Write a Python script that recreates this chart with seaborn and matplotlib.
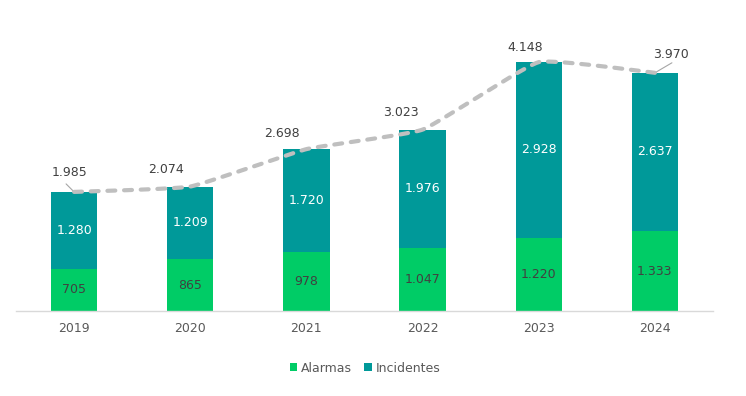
import numpy as np
import pandas as pd
import matplotlib
matplotlib.use("Agg")
import matplotlib.pyplot as plt
import seaborn as sns

years = ["2019", "2020", "2021", "2022", "2023", "2024"]
alarmas = [705, 865, 978, 1047, 1220, 1333]
incidentes = [1280, 1209, 1720, 1976, 2928, 2637]
totales = [1985, 2074, 2698, 3023, 4148, 3970]

GREEN = "#00CC66"
TEAL = "#009999"
GREY_LINE = "#BFBFBF"
TXT = "#404040"

def fmt(v):
    return f"{v:,}".replace(",", ".")

sns.set_theme(style="white")
plt.rcParams["font.family"] = ["DejaVu Sans"]

fig = plt.figure(figsize=(7.46, 3.96), dpi=100)
ax = fig.add_axes([16/746, (396-311)/396, 697/746, 300/396])

df = pd.DataFrame({"year": years, "Alarmas": alarmas, "Incidentes": incidentes})
sns.barplot(data=df, x="year", y="Alarmas", color=GREEN, width=0.4, ax=ax,
            saturation=1, label="Alarmas", linewidth=0)
sns.barplot(data=df, x="year", y="Incidentes", color=TEAL, width=0.4, ax=ax,
            saturation=1, bottom=alarmas, label="Incidentes", linewidth=0)

# lightly smoothed total line (Bezier rendering through the data points)
xs = np.arange(len(years), dtype=float)
ys = np.array(totales, dtype=float)
P = np.column_stack([xs, ys])
n = len(P)
tang = np.zeros_like(P)
for i in range(n):
    a = P[max(i-1, 0)]
    b = P[min(i+1, n-1)]
    tang[i] = (b - a) / 2
k = 0.12
cx, cy = [], []
t = np.linspace(0, 1, 40)[:, None]
for i in range(n-1):
    p0 = P[i]; p3 = P[i+1]
    p1 = p0 + tang[i] * k
    p2 = p3 - tang[i+1] * k
    pts = (1-t)**3*p0 + 3*(1-t)**2*t*p1 + 3*(1-t)*t**2*p2 + t**3*p3
    cx.extend(pts[:, 0]); cy.extend(pts[:, 1])
ax.plot(cx, cy, color=GREY_LINE, lw=3.0, ls=(0, (1.9, 2.1)),
        dash_capstyle="round", zorder=5)

# segment labels
for i in range(len(years)):
    ax.text(i, alarmas[i]/2, fmt(alarmas[i]), ha="center", va="center",
            fontsize=9, color=TXT, zorder=6)
    ax.text(i, alarmas[i] + incidentes[i]/2, fmt(incidentes[i]), ha="center",
            va="center", fontsize=9, color="white", zorder=6)

# total labels (offsets in pixels)
offs = [(-5, 19), (-24, 17), (-24, 16), (-22, 17), (-14, 15), (16, 18)]
for i, (dx, dy) in enumerate(offs):
    ax.annotate(fmt(totales[i]), xy=(i, totales[i]), xytext=(dx*0.72, dy*0.72),
                textcoords="offset points", ha="center", va="center",
                fontsize=9, color=TXT, zorder=7)
# leader lines
ax.annotate("", xy=(0, totales[0]), xytext=(-8*0.72, 8*0.72), textcoords="offset points",
            arrowprops=dict(arrowstyle="-", color="#A6A6A6", lw=0.8, shrinkA=0, shrinkB=0))
ax.annotate("", xy=(5, totales[5]), xytext=(17*0.72, 10*0.72), textcoords="offset points",
            arrowprops=dict(arrowstyle="-", color="#A6A6A6", lw=0.8, shrinkA=0, shrinkB=0))

ax.set_xlim(-0.5, 5.5)
ax.set_ylim(0, 5000)
ax.set_xlabel("")
ax.set_ylabel("")
ax.set_yticks([])
for s in ["top", "right", "left"]:
    ax.spines[s].set_visible(False)
ax.spines["bottom"].set_color("#D9D9D9")
ax.spines["bottom"].set_linewidth(1)
ax.tick_params(axis="x", length=0, pad=8, labelsize=9, labelcolor="#595959")

leg = ax.legend(loc="center", bbox_to_anchor=(365/746, 1 - 368/396), bbox_transform=fig.transFigure,
                ncol=2, frameon=False, fontsize=9, handlelength=0.6, handleheight=0.6,
                handletextpad=0.3, columnspacing=1.0)
for t_ in leg.get_texts():
    t_.set_color("#595959")

fig.savefig("out.png", dpi=100, facecolor="white")
